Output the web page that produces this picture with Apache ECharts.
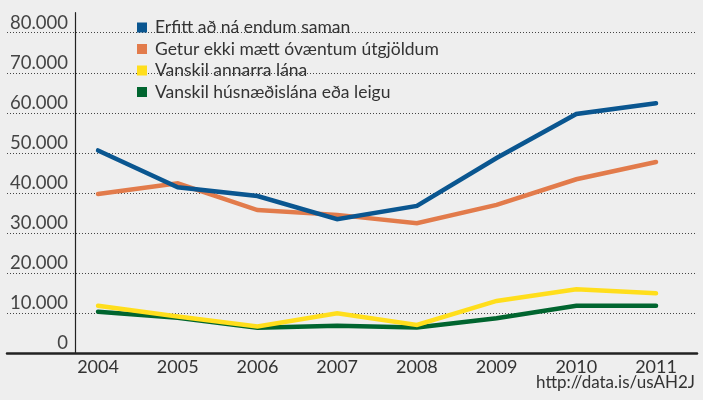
<!DOCTYPE html>
<html>
<head>
<meta charset="utf-8">
<script src="https://cdn.jsdelivr.net/npm/echarts@6/dist/echarts.min.js"></script>
<style>
html,body{margin:0;padding:0;background:#eeeeee;}
#chart{width:703px;height:400px;}
</style>
</head>
<body>
<div id="chart"></div>
<script>
const years = [2004, 2005, 2006, 2007, 2008, 2009, 2010, 2011];
const seriesNames = [
  'Erfitt að ná endum saman',
  'Getur ekki mætt óvæntum útgjöldum',
  'Vanskil annarra lána',
  'Vanskil húsnæðislána eða leigu'
];
const erfitt = [50600, 41400, 39200, 33400, 36750, 48700, 59700, 62400];
const getur = [39700, 42400, 35700, 34500, 32400, 37000, 43400, 47700];
const vanskilAnnarra = [11800, 9100, 6600, 9900, 7000, 13000, 15900, 14900];
const vanskilHusn = [10300, 8800, 6300, 6800, 6400, 8700, 11800, 11800];
const yTicks = [0, 10000, 20000, 30000, 40000, 50000, 60000, 70000, 80000];
const sourceText = 'http://data.is/usAH2J';

const colors = ['#0a5690', '#e27b4b', '#ffde1c', '#00652f'];
const allData = [erfitt, getur, vanskilAnnarra, vanskilHusn];
const zs = [5, 4, 3, 2];
const FONT = 'Lato';

function fmt(v) {
  return String(v).replace(/\B(?=(\d{3})+(?!\d))/g, '.');
}

const chart = echarts.init(document.getElementById('chart'), null, {renderer: 'canvas'});
chart.setOption({
  animation: false,
  backgroundColor: '#eeeeee',
  textStyle: {fontFamily: FONT},
  title: {
    text: sourceText,
    right: 3,
    bottom: 4,
    textStyle: {fontFamily: FONT, fontSize: 17, fontWeight: 'normal', color: '#333'}
  },
  legend: {
    orient: 'vertical',
    left: 132,
    top: 12,
    icon: 'rect',
    itemWidth: 10,
    itemHeight: 10,
    itemGap: 0.5,
    textStyle: {fontFamily: FONT, fontSize: 17.5, color: '#333', lineHeight: 21, padding: [0, 0, 0, 3]},
    data: seriesNames
  },
  grid: {left: 7, right: 6, top: 12.7, bottom: 47, containLabel: false},
  xAxis: {
    type: 'value',
    min: 2002.858,
    max: 2011.514,
    axisLine: {show: true, onZero: false, lineStyle: {color: '#222', width: 2.5}},
    axisTick: {show: false},
    splitLine: {show: false},
    axisLabel: {
      customValues: years,
      margin: 5,
      fontFamily: FONT,
      fontSize: 18,
      color: '#333',
      formatter: v => String(v)
    }
  },
  yAxis: {
    type: 'value',
    min: 0,
    max: 85000,
    interval: 10000,
    offset: -68,
    axisLine: {show: true, lineStyle: {color: '#222', width: 1.2}},
    axisTick: {show: false},
    axisLabel: {
      customValues: yTicks,
      margin: 7,
      fontFamily: FONT,
      fontSize: 18.5,
      color: '#444',
      verticalAlign: 'bottom',
      padding: [0, 0, 0, 0],
      formatter: v => (v > 80000 ? '' : fmt(v))
    },
    splitLine: {
      show: true,
      showMaxLine: false,
      lineStyle: {color: '#444', width: 1, type: [1, 2]}
    }
  },
  series: seriesNames.map((name, i) => ({
    name: name,
    type: 'line',
    z: zs[i],
    symbol: 'none',
    color: colors[i],
    lineStyle: {width: 4.5, color: colors[i], cap: 'round', join: 'miter'},
    data: years.map((y, j) => [y, allData[i][j]])
  }))
});
</script>
</body>
</html>
